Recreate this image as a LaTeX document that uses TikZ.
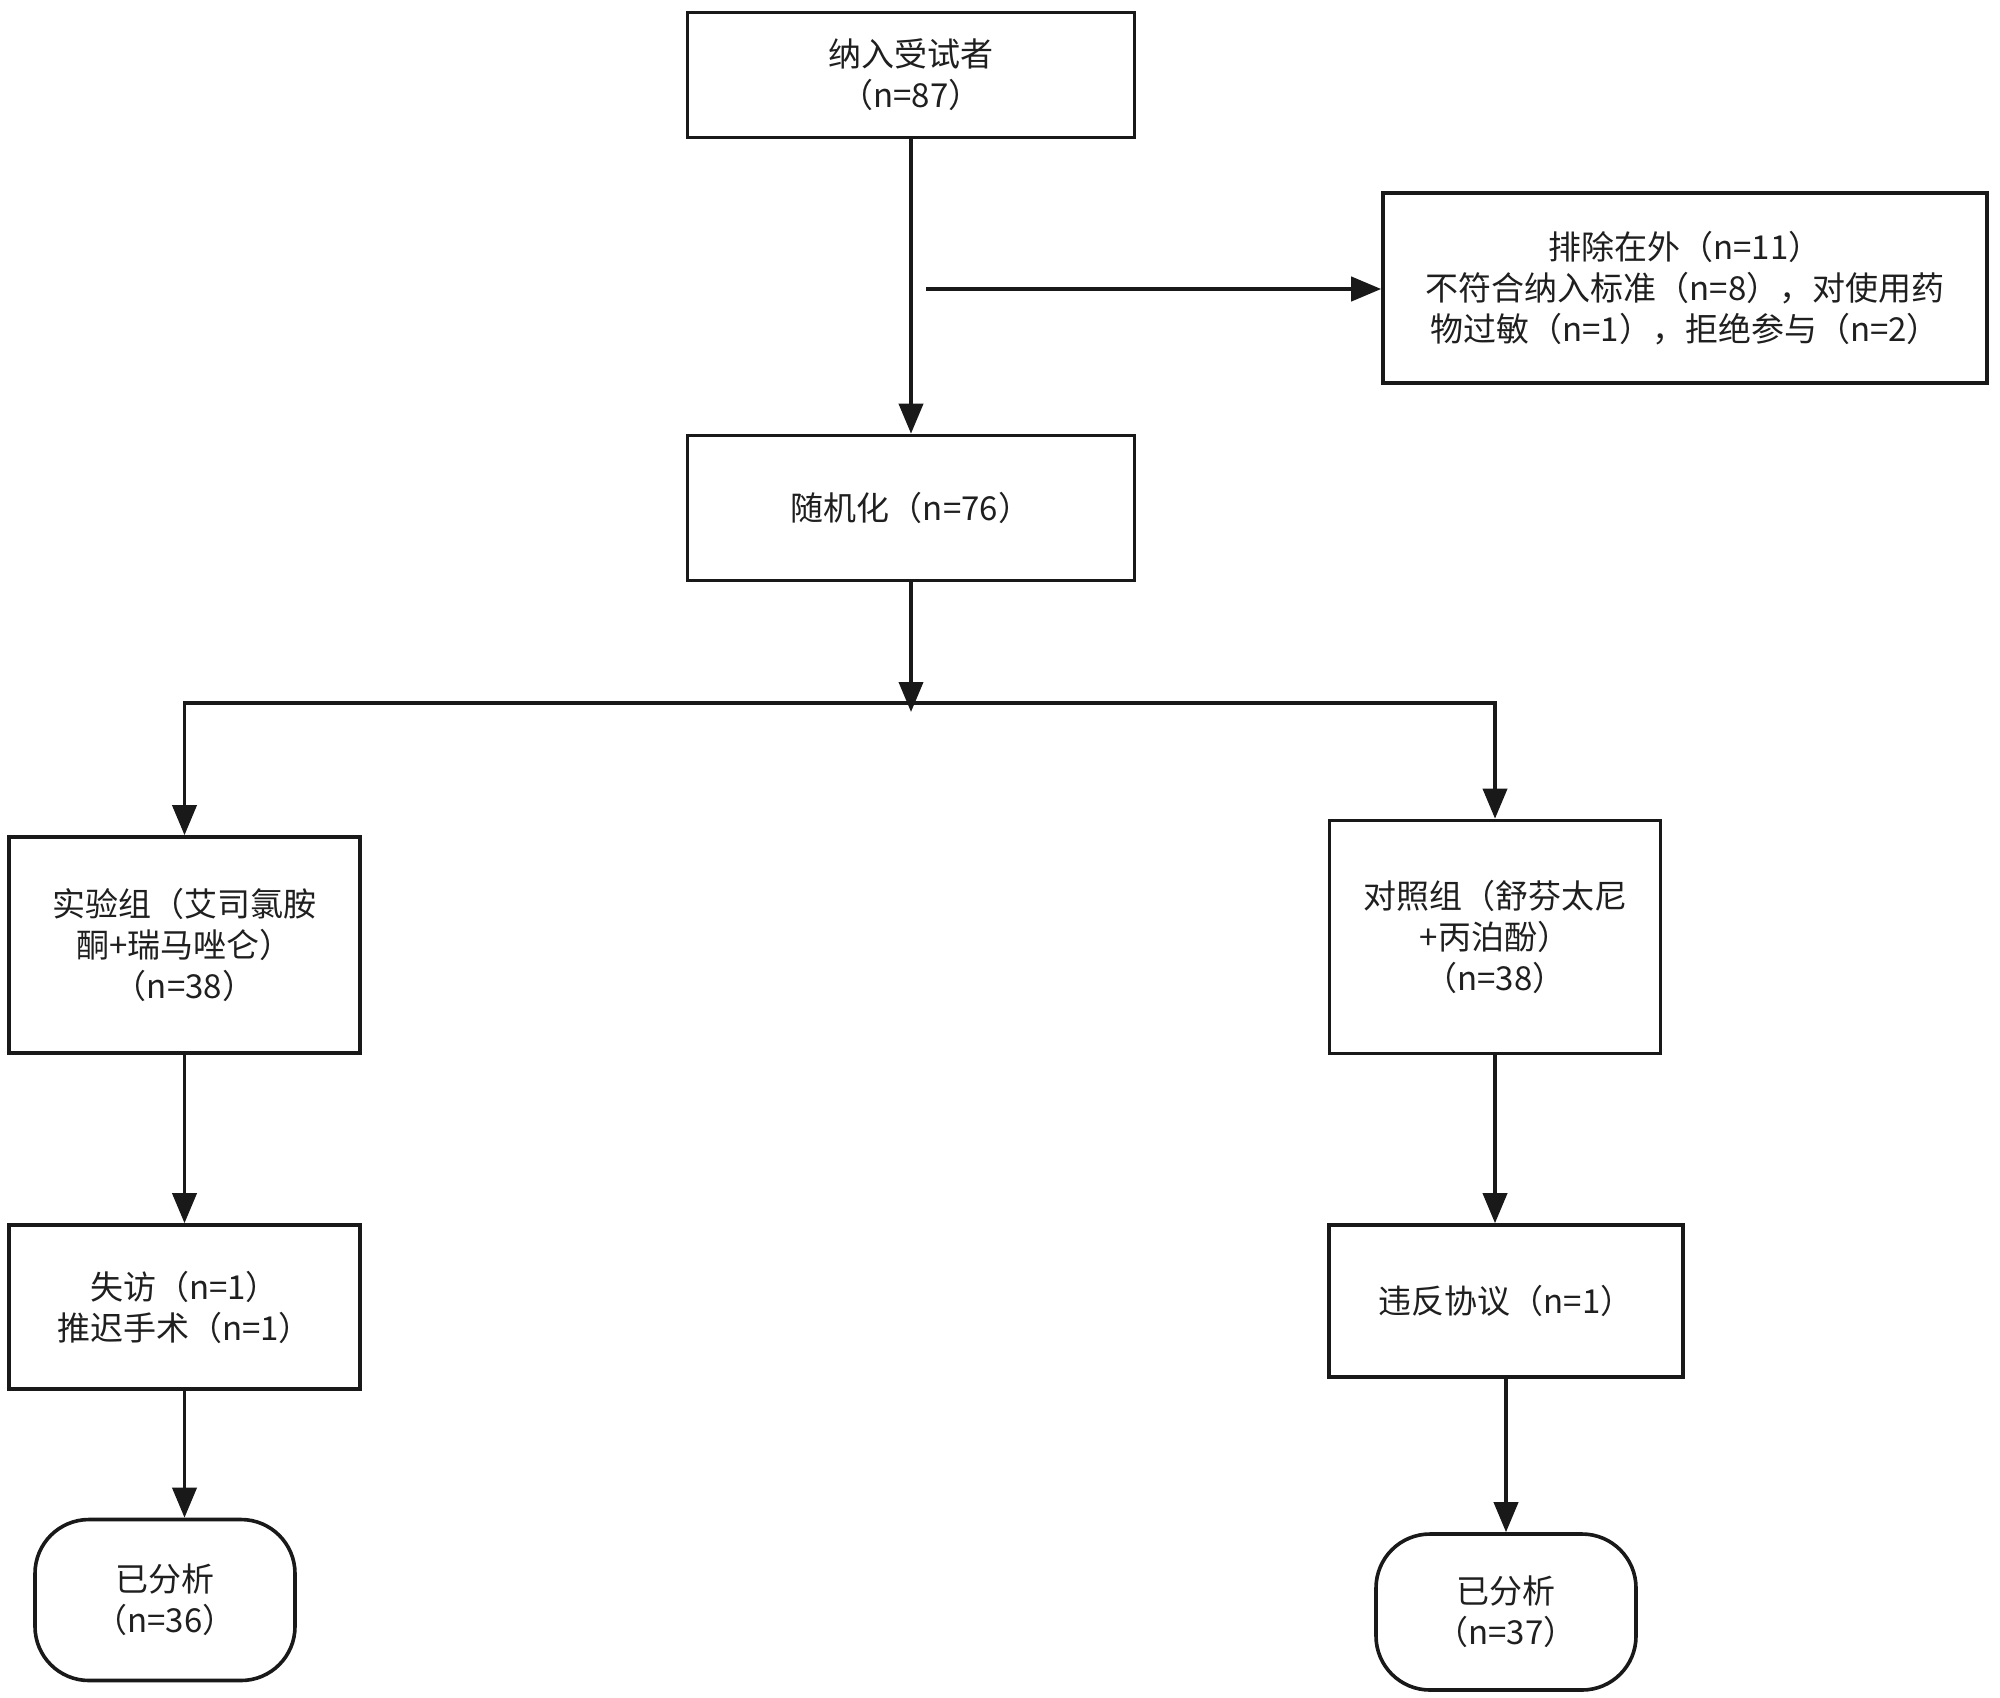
\documentclass[tikz,border=0pt]{standalone}
\usepackage{fontspec}
\setmainfont{Noto Sans CJK SC}
\usetikzlibrary{arrows.meta,calc}
\begin{document}
\begin{tikzpicture}[x=0.5pt,y=-0.5pt,
  box/.style={draw=black!90,line width=1.8pt,rectangle,align=center,inner sep=0pt,
    text=black!88,font=\fontsize{16.5pt}{20.5pt}\selectfont},
  term/.style={box,rounded corners=27pt},
  conn/.style={draw=black!90,line width=1.9pt,line join=miter,-{Triangle[length=15pt,width=12pt]}},
  plain/.style={draw=black!90,line width=1.9pt}]
\fill[white] (0,0) rectangle (2000,1697);
\useasboundingbox (0,0) rectangle (2000,1697);

\node[box,minimum width=223.5pt,minimum height=62.5pt] (n1) at (911,75) {纳入受试者\\（n=87）};
\node[box,minimum width=302pt,minimum height=95pt] (excl) at (1685,288)
  {排除在外（n=11）\\不符合纳入标准（n=8），对使用药\\物过敏（n=1），拒绝参与（n=2）};
\node[box,minimum width=223.5pt,minimum height=72.5pt] (n2) at (911,508) {随机化（n=76）};
\node[box,minimum width=175.5pt,minimum height=108pt] (L1) at (184.5,945)
  {实验组（艾司氯胺\\酮+瑞马唑仑）\\（n=38）};
\node[box,minimum width=165.5pt,minimum height=116.5pt] (R1) at (1495,937)
  {对照组（舒芬太尼\\+丙泊酚）\\（n=38）};
\node[box,minimum width=175.5pt,minimum height=82pt] (L2) at (184.5,1307)
  {失访（n=1）\\推迟手术（n=1）};
\node[box,minimum width=177pt,minimum height=76pt] (R2) at (1506,1301) {违反协议（n=1）};
\node[term,minimum width=130pt,minimum height=80.5pt] (L3) at (165,1600) {已分析\\（n=36）};
\node[term,minimum width=130pt,minimum height=78pt] (R3) at (1506,1612) {已分析\\（n=37）};

\coordinate (ex0) at (926,289);
\coordinate (br) at (911,703);
\coordinate (brTip) at (911,712);

\draw[conn] (n1) -- (n2);
\draw[conn,line width=2.1pt] (ex0) -- (ex0 -| excl.west);
\draw[conn] (n2) -- (brTip);
\draw[conn] (br) -| (L1.north);
\draw[conn] (br) -| (R1.north);
\draw[conn] (L1) -- (L2);
\draw[conn] (R1.south) -- (R1.south |- R2.north);
\draw[conn] (L2.south) -- (L2.south |- L3.north);
\draw[conn] (R2.south) -- (R2.south |- R3.north);
\end{tikzpicture}
\end{document}
